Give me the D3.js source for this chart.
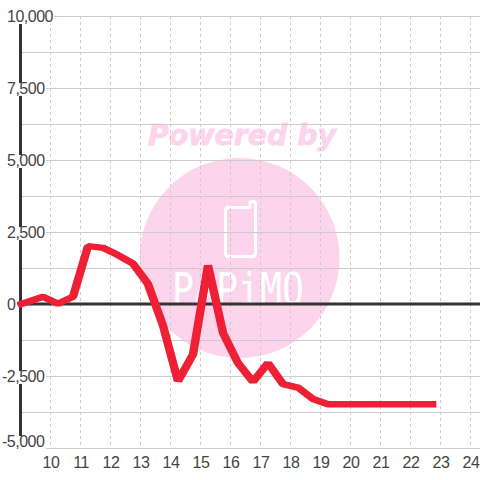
<!DOCTYPE html>
<html><head><meta charset="utf-8">
<script src="https://cdn.jsdelivr.net/npm/d3@7/dist/d3.min.js"></script>
<style>html,body{margin:0;padding:0;background:#fff}svg{display:block}</style>
</head><body><svg id="c" width="480" height="480"></svg>
<script>
const hours = [9.03,9.75,10.25,10.75,11.25,11.75,12.25,12.75,13.25,13.75,14.25,14.75,15.25,15.75,16.25,16.75,17.25,17.75,18.25,18.75,19.25,19.75,20.25,20.75,21.25,21.75,22.25,22.72];
const values = [0,250,10,250,2010,1950,1700,1400,700,-750,-2680,-1750,1340,-1000,-2050,-2700,-2050,-2780,-2900,-3300,-3480,-3480,-3480,-3480,-3480,-3480,-3480,-3480];
const xTicks = [10,11,12,13,14,15,16,17,18,19,20,21,22,23,24];
const yLabels = [10000,7500,5000,2500,0,-2500,-5000];
const yGrid = [10000,8750,7500,6250,5000,3750,2500,1250,0,-1250,-2500,-3750,-5000];

const svg = d3.select("#c");
const x = d3.scaleLinear().domain([10,24]).range([50.5,470.5]);
const y = d3.scaleLinear().domain([-5000,10000]).range([448,16]);
const font = "'Liberation Sans',Arial,sans-serif";
const penStretch = 1.3;
const xPen = d3.scaleLinear().domain(x.domain()).range(x.range().map(d=>d/penStretch));

// watermark
const wm = svg.append("g");
wm.append("text").attr("x",242).attr("y",145).attr("text-anchor","middle")
  .attr("font-family","'DejaVu Sans',sans-serif").attr("font-weight","bold").attr("font-style","italic")
  .attr("font-size",28.4).attr("fill","#fcd5ec").attr("stroke","#fcd5ec").attr("stroke-width",.8).text("Powered by");
wm.append("circle").attr("cx",239.5).attr("cy",258).attr("r",100).attr("fill","#fcd5ec");
wm.append("path").attr("fill","none").attr("stroke","#fff").attr("stroke-width",3).attr("stroke-linejoin","round")
  .attr("d","M229 207.5H250V203Q250 201.5 253 201.5Q255.5 201.5 255.5 204V253Q255.5 256.5 252 256.5H229Q225.5 256.5 225.5 253V211Q225.5 207.5 229 207.5Z");
wm.append("text").attr("transform","translate(172,305) scale(.83,1)")
  .attr("font-family","'DejaVu Sans Mono',monospace").attr("font-size",44)
  .attr("fill","#fff").text("PAPiMO");

// grid
const grid = svg.append("g");
grid.selectAll("line.h").data(yGrid).join("line").attr("class","h")
  .attr("x1",20).attr("x2",480).attr("y1",d=>Math.round(y(d))+.5).attr("y2",d=>Math.round(y(d))+.5)
  .attr("stroke","#ccc").attr("stroke-width",1);
grid.selectAll("line.v").data(xTicks).join("line").attr("class","v")
  .attr("x1",d=>x(d)).attr("x2",d=>x(d)).attr("y1",16).attr("y2",448)
  .attr("stroke","#ccc").attr("stroke-width",1).attr("stroke-dasharray","3,3");

// axes
svg.append("line").attr("x1",20.5).attr("x2",20.5).attr("y1",16).attr("y2",448).attr("stroke","#333").attr("stroke-width",3);
svg.append("line").attr("x1",20).attr("x2",480).attr("y1",y(0)).attr("y2",y(0)).attr("stroke","#333").attr("stroke-width",3);

// series
const line = d3.line().x((d,i)=>xPen(hours[i])).y(d=>y(d));
svg.append("g").attr("transform",`scale(${penStretch},1)`)
  .append("path").datum(values).attr("d",line).attr("fill","none")
  .attr("stroke","#ee2036").attr("stroke-width",6.5).attr("stroke-linejoin","bevel").attr("stroke-linecap","square");

// y labels with white backing
const fmt = d3.format(",");
const yl = svg.append("g").attr("font-family",font).attr("font-size",16).attr("letter-spacing",-0.5).attr("fill","#444");
yLabels.forEach(v=>{
  const cy = v===yLabels[yLabels.length-1] ? y(v)-7 : y(v);
  const t = yl.append("text").attr("x",v<0?2:7).attr("y",cy+6).text(fmt(v).replace("−","-"));
  const b = t.node().getBBox();
  yl.insert("rect","text").attr("x",b.x-1).attr("y",cy-5).attr("width",b.width+2).attr("height",13).attr("fill","#fff");
});

// x labels
svg.append("g").attr("font-family",font).attr("font-size",16).attr("letter-spacing",-0.5).attr("fill","#444")
  .selectAll("text").data(xTicks).join("text")
  .attr("x",d=>x(d)+.5).attr("y",468).attr("text-anchor","middle").text(d=>d);
</script></body></html>
